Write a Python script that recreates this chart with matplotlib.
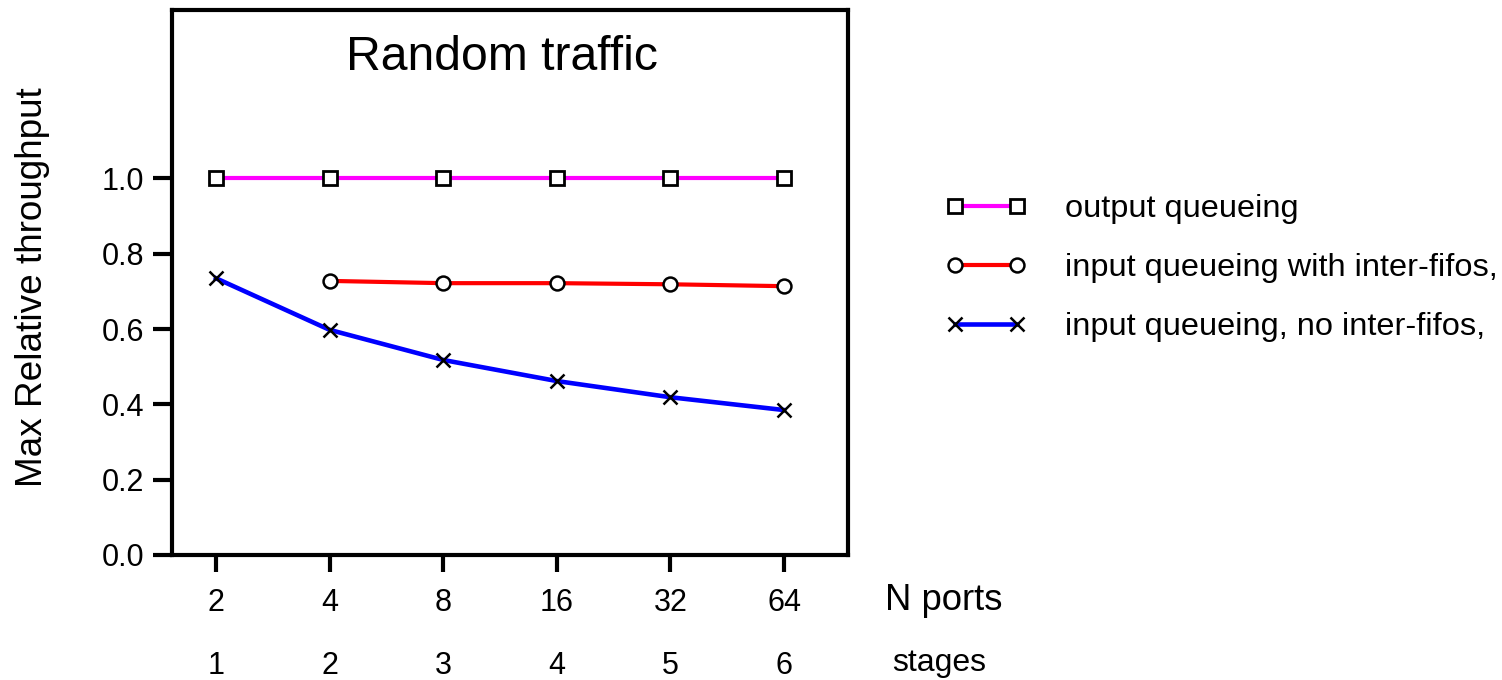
import numpy as np
import matplotlib
matplotlib.use("Agg")
import matplotlib.pyplot as plt
from matplotlib.transforms import blended_transform_factory

plt.rcParams['font.family'] = ['Liberation Sans', 'DejaVu Sans']

# ---- data ----
n_ports = ['2', '4', '8', '16', '32', '64']
stages = ['1', '2', '3', '4', '5', '6']
output_queueing = [1.0, 1.0, 1.0, 1.0, 1.0, 1.0]
input_inter_fifos = [np.nan, 0.728, 0.722, 0.722, 0.719, 0.714]
input_no_inter_fifos = [0.735, 0.598, 0.518, 0.462, 0.419, 0.385]
y_ticks = [0.0, 0.2, 0.4, 0.6, 0.8, 1.0]
series_labels = ['output queueing', 'input queueing with inter-fifos,',
                 'input queueing, no inter-fifos,']

fig = plt.figure(figsize=(15.02, 6.80), dpi=100)
ax = fig.add_axes([172/1502, 1-555/680, (848-172)/1502, (555-10)/680])

x = np.arange(len(n_ports))
lw = 3.0
h1, = ax.plot(x, output_queueing, color='#FF00FF', lw=lw, marker='s', ms=9.5,
              mfc='white', mec='black', mew=2.0, zorder=3, clip_on=False)
h2, = ax.plot(x, input_inter_fifos, color='#FF0000', lw=lw, marker='o', ms=10,
              mfc='white', mec='black', mew=1.8, zorder=3, clip_on=False)
h3, = ax.plot(x, input_no_inter_fifos, color='#0000FF', lw=3.3, marker='x', ms=10,
              mec='black', mew=1.8, zorder=3, clip_on=False)

ax.set_xlim(-0.387, 5.563)
ax.set_ylim(0, 1.4475)
ax.set_yticks(y_ticks)
ax.set_yticklabels([f'{v:.1f}' for v in y_ticks], fontsize=22)
ax.set_xticks(x)
ax.set_xticklabels([])
for s in ax.spines.values():
    s.set_linewidth(3)
ax.tick_params(axis='y', direction='out', length=14, width=3, pad=6)
ax.tick_params(axis='x', direction='out', length=12, width=3)

trans = blended_transform_factory(ax.transData, ax.transAxes)
for xi, lab in zip(x, n_ports):
    ax.text(xi, (555-603)/545, lab, transform=trans, ha='center', va='center', fontsize=22)
for xi, lab in zip(x, stages):
    ax.text(xi, (555-666)/545, lab, transform=trans, ha='center', va='center', fontsize=22)

fig.text(885/1502, 1-600/680, 'N ports', ha='left', va='center', fontsize=26.3)
fig.text(892/1502, 1-663/680, 'stages', ha='left', va='center', fontsize=23)

ax.text((502-172)/676, (555-57)/545, 'Random traffic', transform=ax.transAxes,
        ha='center', va='center', fontsize=34.7)

fig.text(33/1502, 1-287/680, 'Max Relative throughput', rotation=90,
         ha='center', va='center', fontsize=26.6)

fig.legend([h1, h2, h3], series_labels, loc='upper left',
           bbox_to_anchor=(945.25/1502, 1-194/680), frameon=False, fontsize=23.4,
           numpoints=2, handlelength=2.51, handletextpad=1.18, labelspacing=0.9,
           borderpad=0, borderaxespad=0)

fig.savefig('out.png', dpi=100)
